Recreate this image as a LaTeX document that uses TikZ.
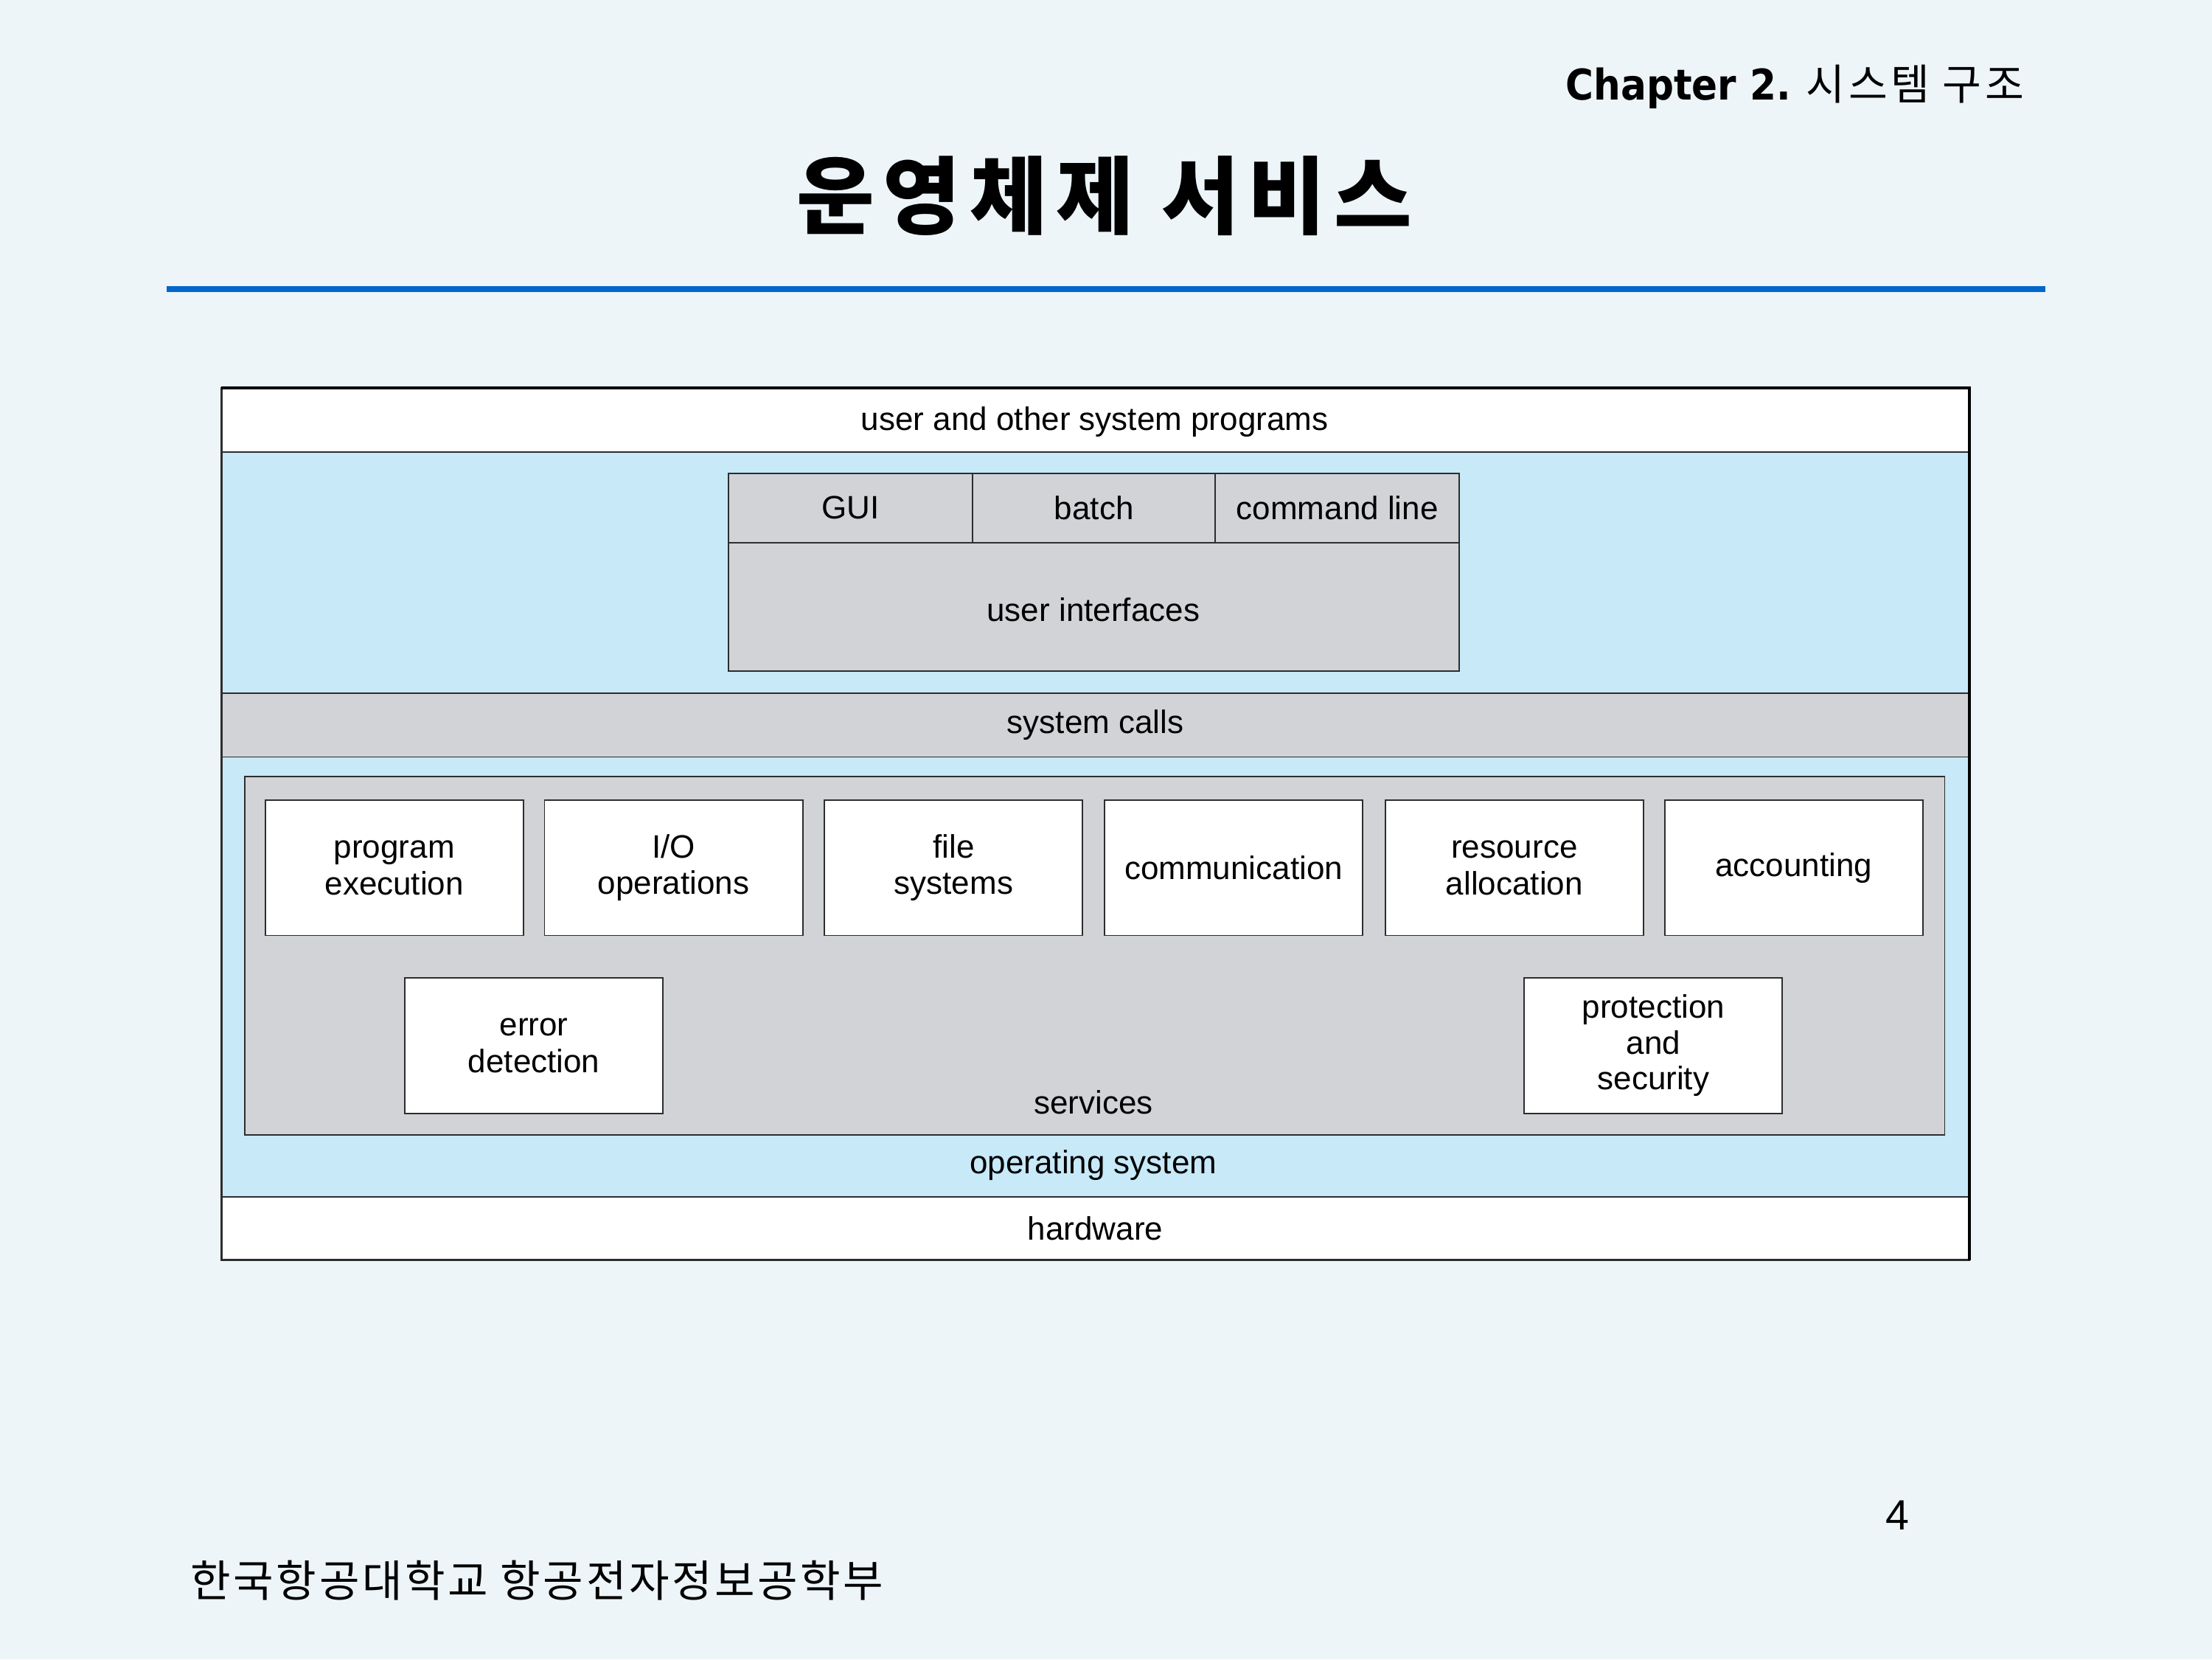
\documentclass[tikz,border=0pt]{standalone}
\usepackage{fontspec}
\setmainfont{Liberation Sans}
\newfontfamily\kofont{Noto Sans CJK KR}
\newfontfamily\kotitle{Noto Sans CJK KR}[LetterSpace=10]
\newfontfamily\kofoot{Noto Sans CJK KR}[LetterSpace=6]
\newfontfamily\kochap{Noto Sans CJK KR}[LetterSpace=8]
\newfontfamily\chapfont{DejaVu Sans}[FakeStretch=0.9]
\definecolor{slidebg}{RGB}{237,245,249}
\definecolor{osblue}{RGB}{199,233,248}
\definecolor{panelgray}{RGB}{209,211,214}
\definecolor{rulblue}{RGB}{0,102,204}
\definecolor{edge}{RGB}{45,45,45}
\tikzset{
  lbl/.style={font=\fontsize{23}{26}\selectfont, align=center, text=black},
  band/.style={draw=edge, line width=1pt, inner sep=0pt, anchor=north west, lbl},
  svc/.style={band, fill=white, minimum width=183pt, minimum height=96pt, anchor=center},
}
\begin{document}
\begin{tikzpicture}[x=1pt,y=-1pt]
  % slide background
  \fill[slidebg] (0,0) rectangle (1568,1176);
  \useasboundingbox (0,0) rectangle (1568,1176);

  % header
  \node[anchor=base east, inner sep=0pt] (chap) at (1435,71)
    {{\chapfont\bfseries\fontsize{30}{33}\selectfont Chapter 2.}\hspace{11pt}{\kochap\fontsize{30}{33}\selectfont 시스템 구조}};
  \node[anchor=base, inner sep=0pt] (title) at (783,161)
    {\kotitle\bfseries\fontsize{60}{66}\selectfont 운영체제 서비스};
  \fill[rulblue] (118,203) rectangle (1450,207);

  % layered structure
  \node[band, fill=white, minimum width=1238pt, minimum height=45pt] (usr) at (157,275) {};
  \node[lbl] at (776,299) {user and other system programs};
  \node[band, fill=osblue, minimum width=1238pt, minimum height=171pt] (os1) at (157,320) {};

  % user interfaces
  \node[band, fill=panelgray, minimum width=518pt, minimum height=91pt] (ui) at (516,384) {};
  \node[lbl] at (775,432) {user interfaces};
  \node[band, fill=panelgray, minimum width=173pt, minimum height=49pt] (gui) at (516,335) {GUI};
  \node[band, fill=panelgray, minimum width=172pt, minimum height=49pt] (batch) at (689,335) {batch};
  \node[band, fill=panelgray, minimum width=173pt, minimum height=49pt] (cmd) at (861,335) {command line};

  % system calls
  \node[band, fill=panelgray, minimum width=1238pt, minimum height=45pt] (sys) at (157,491) {system calls};

  % operating system with services
  \node[band, fill=osblue, minimum width=1238pt, minimum height=312pt] (os2) at (157,536) {};
  \node[lbl] (oslbl) at (775,826) {operating system};
  \node[band, fill=panelgray, minimum width=1205pt, minimum height=254pt] (svcs) at (173,550) {};
  \node[lbl] (svclbl) at (775,781) {services};

  \node[svc] (pe) at (279.5,615) {program\\execution};
  \node[svc] (io) at (477.5,615) {I/O\\operations};
  \node[svc] (fs) at (676,615) {file\\systems};
  \node[svc] (com) at (874.5,615) {communication};
  \node[svc] (ra) at (1073.5,615) {resource\\allocation};
  \node[svc] (acc) at (1271.5,615) {accounting};
  \node[svc] (ed) at (378.5,741) {error\\detection};
  \node[svc, font=\fontsize{23}{25.5}\selectfont] (ps) at (1172,741) {protection\\and\\security};

  % hardware
  \node[band, fill=white, minimum width=1238pt, minimum height=44pt] (hw) at (157,848) {hardware};

  % outer frame
  \draw[edge, line width=1.2pt] (usr.north west) rectangle (hw.south east);
  \draw[black, line width=2.2pt] (usr.north west) -- (usr.north east) -- (hw.south east);

  % footer
  \node[anchor=base west, inner sep=0pt] (foot) at (135,1132)
    {\kofoot\fontsize{31}{34}\selectfont 한국항공대학교 항공전자정보공학부};
  \node[anchor=base, inner sep=0pt] (pg) at (1345,1084)
    {\fontsize{30}{33}\selectfont 4};
\end{tikzpicture}
\end{document}
